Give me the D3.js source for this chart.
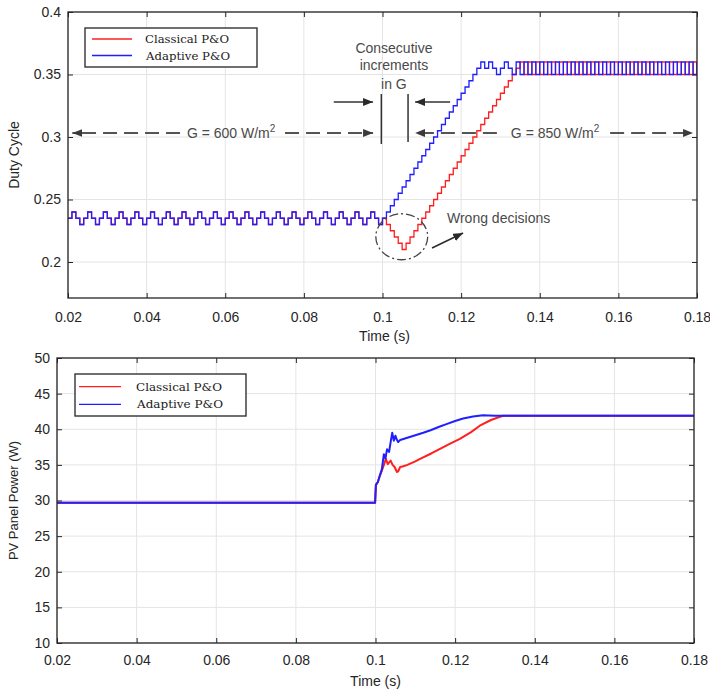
<!DOCTYPE html>
<html><head><meta charset="utf-8">
<script src="https://cdn.jsdelivr.net/npm/d3@7/dist/d3.min.js"></script>
<style>body{margin:0;background:#fff}</style>
</head><body><svg id="c" width="710" height="690" style="display:block;background:#fff"></svg>
<script>
// ---------------- data ----------------
const seriesNames = ["Classical P&O", "Adaptive P&O"];
const seriesColors = ["#ff1f1f", "#1f1fff"];
const timeTicks = [0.02, 0.04, 0.06, 0.08, 0.1, 0.12, 0.14, 0.16, 0.18];
const dutyTicks = [0.2, 0.25, 0.3, 0.35, 0.4];
const powerTicks = [10, 15, 20, 25, 30, 35, 40, 45, 50];

// duty cycle sampled every 1 ms starting at 0.020 s
const dutyT0 = 0.02, dutyDt = 0.001;
const dutyClassical = [
  0.235,0.24,0.235,0.23, 0.235,0.24,0.235,0.23, 0.235,0.24,0.235,0.23, 0.235,0.24,0.235,0.23,
  0.235,0.24,0.235,0.23, 0.235,0.24,0.235,0.23, 0.235,0.24,0.235,0.23, 0.235,0.24,0.235,0.23,
  0.235,0.24,0.235,0.23, 0.235,0.24,0.235,0.23, 0.235,0.24,0.235,0.23, 0.235,0.24,0.235,0.23,
  0.235,0.24,0.235,0.23, 0.235,0.24,0.235,0.23, 0.235,0.24,0.235,0.23, 0.235,0.24,0.235,0.23,
  0.235,0.24,0.235,0.23, 0.235,0.24,0.235,0.23, 0.235,0.24,0.235,0.23, 0.235,0.24,0.235,0.23,
  0.235,0.23,0.225,0.22,0.215,0.21,
  0.215,0.22,0.225,0.23,0.235,0.24,0.245,0.25,0.255,0.26,0.265,0.27,0.275,0.28,0.285,
  0.29,0.295,0.3,0.305,0.31,0.315,0.32,0.325,0.33,0.335,0.34,0.345,0.35,0.355,
  0.36,0.35,0.36,0.35,0.36,0.35,0.36,0.35,0.36,0.35,0.36,0.35,0.36,0.35,0.36,0.35,
  0.36,0.35,0.36,0.35,0.36,0.35,0.36,0.35,0.36,0.35,0.36,0.35,0.36,0.35,0.36,0.35,
  0.36,0.35,0.36,0.35,0.36,0.35,0.36,0.35,0.36,0.35,0.36,0.35,0.36,0.35
];
const dutyAdaptive = [
  0.235,0.24,0.235,0.23, 0.235,0.24,0.235,0.23, 0.235,0.24,0.235,0.23, 0.235,0.24,0.235,0.23,
  0.235,0.24,0.235,0.23, 0.235,0.24,0.235,0.23, 0.235,0.24,0.235,0.23, 0.235,0.24,0.235,0.23,
  0.235,0.24,0.235,0.23, 0.235,0.24,0.235,0.23, 0.235,0.24,0.235,0.23, 0.235,0.24,0.235,0.23,
  0.235,0.24,0.235,0.23, 0.235,0.24,0.235,0.23, 0.235,0.24,0.235,0.23, 0.235,0.24,0.235,0.23,
  0.235,0.24,0.235,0.23, 0.235,0.24,0.235,0.23, 0.235,0.24,0.235,0.23, 0.235,0.24,0.235,0.23,
  0.235,0.24,0.245,0.25,0.255,0.26,0.265,0.27,0.275,0.28,0.285,0.29,0.295,
  0.3,0.305,0.31,0.315,0.32,0.325,0.33,0.335,0.34,0.345,0.35,0.355,0.36,
  0.355,0.36,0.355,0.35,0.355,0.36,0.355,0.35,
  0.36,0.35,0.36,0.35,0.36,0.35,0.36,0.35,0.36,0.35,0.36,0.35,0.36,0.35,0.36,0.35,
  0.36,0.35,0.36,0.35,0.36,0.35,0.36,0.35,0.36,0.35,0.36,0.35,0.36,0.35,0.36,0.35,
  0.36,0.35,0.36,0.35,0.36,0.35,0.36,0.35,0.36,0.35,0.36,0.35,0.36,0.35,0.36
];

// PV panel power (W)
const powerClassicalT = [0.02,0.0999,0.1001,0.1006,0.1011,0.1016,0.1021,0.1026,0.1031,0.1035,0.1038,0.1043,0.1048,0.1054,0.1057,0.1062,0.1070,0.1080,0.1100,0.1112,0.1140,0.1162,0.1190,0.1212,0.1240,0.1262,0.1290,0.1320,0.18];
const powerClassical  = [29.7,29.7,32.2,32.6,33.5,34.2,35.0,35.85,35.1,35.4,35.6,35.0,34.7,34.0,34.1,34.7,34.8,35.0,35.5,35.85,36.6,37.25,38.05,38.65,39.6,40.5,41.3,41.9,41.9];
const powerAdaptiveT  = [0.02,0.0999,0.1001,0.1006,0.1011,0.1016,0.1021,0.1025,0.1029,0.1034,0.1038,0.1042,0.1046,0.1050,0.1053,0.1057,0.1062,0.1080,0.1100,0.1120,0.1140,0.1160,0.1180,0.1200,0.1220,0.1245,0.1270,0.1300,0.18];
const powerAdaptive   = [29.7,29.7,32.2,32.6,33.5,34.4,36.5,35.9,37.2,36.8,38.2,39.5,38.4,39.1,38.6,38.2,38.5,38.8,39.15,39.5,39.9,40.35,40.75,41.15,41.5,41.8,41.95,41.9,41.9];

// ---------------- drawing ----------------
const svg = d3.select("#c");
const AX = "#262626", GRID = "#e4e4e4", FONT = "'Liberation Sans', Arial, Helvetica, sans-serif";

const defs = svg.append("defs");
function marker(id, color) {
  defs.append("marker").attr("id", id).attr("viewBox", "0 0 10 8").attr("refX", 10).attr("refY", 4)
    .attr("markerWidth", 10).attr("markerHeight", 8).attr("markerUnits", "userSpaceOnUse")
    .attr("orient", "auto-start-reverse")
    .append("path").attr("d", "M0,0 L10,4 L0,8 Z").attr("fill", color);
}
marker("arrDark", "#2a2a2a");
marker("arrGray", "#3a3a3a");

function panel(o) {
  const x = d3.scaleLinear().domain([0.02, 0.18]).range([o.x0, o.x1]);
  const y = d3.scaleLinear().domain(o.yDomain).range([o.y1, o.y0]);
  const g = svg.append("g");
  g.append("rect").attr("x", o.x0).attr("y", o.y0).attr("width", o.x1 - o.x0).attr("height", o.y1 - o.y0).attr("fill", "#fff");
  g.selectAll(null).data(timeTicks).join("line")
    .attr("x1", d => x(d)).attr("x2", d => x(d)).attr("y1", o.y0).attr("y2", o.y1)
    .attr("stroke", GRID).attr("stroke-width", 1);
  g.selectAll(null).data(o.yTicks).join("line")
    .attr("x1", o.x0).attr("x2", o.x1).attr("y1", d => y(d)).attr("y2", d => y(d))
    .attr("stroke", GRID).attr("stroke-width", 1);
  const cid = "clip" + o.id;
  defs.append("clipPath").attr("id", cid).append("rect")
    .attr("x", o.x0).attr("y", o.y0).attr("width", o.x1 - o.x0).attr("height", o.y1 - o.y0);
  const plot = g.append("g").attr("clip-path", `url(#${cid})`);
  const fmt = d3.format("~g");
  const styleAxis = a => {
    a.select(".domain").remove();
    a.selectAll("line").attr("stroke", AX).attr("stroke-width", 1);
    a.selectAll("text").attr("fill", AX).attr("font-size", o.fs).attr("font-family", FONT);
  };
  g.append("g").attr("transform", `translate(0,${o.y1})`)
    .call(d3.axisBottom(x).tickValues(timeTicks).tickFormat(fmt).tickSizeInner(-5).tickSizeOuter(0).tickPadding(o.xPad))
    .call(styleAxis);
  g.append("g").attr("transform", `translate(0,${o.y0})`)
    .call(d3.axisTop(x).tickValues(timeTicks).tickFormat("").tickSizeInner(-5).tickSizeOuter(0))
    .call(styleAxis);
  g.append("g").attr("transform", `translate(${o.x0},0)`)
    .call(d3.axisLeft(y).tickValues(o.yTicks).tickFormat(fmt).tickSizeInner(-5).tickSizeOuter(0).tickPadding(7))
    .call(styleAxis);
  g.append("g").attr("transform", `translate(${o.x1},0)`)
    .call(d3.axisRight(y).tickValues(o.yTicks).tickFormat("").tickSizeInner(-5).tickSizeOuter(0))
    .call(styleAxis);
  g.append("rect").attr("x", o.x0).attr("y", o.y0).attr("width", o.x1 - o.x0).attr("height", o.y1 - o.y0)
    .attr("fill", "none").attr("stroke", AX).attr("stroke-width", 1.3);
  // axis titles
  g.append("text").attr("x", (o.x0 + o.x1) / 2 + o.xlDx).attr("y", o.xlY).attr("text-anchor", "middle")
    .attr("font-family", FONT).attr("font-size", o.fs).attr("fill", AX).text("Time (s)");
  g.append("text").attr("transform", `translate(${o.ylX},${(o.y0 + o.y1) / 2}) rotate(-90)`)
    .attr("text-anchor", "middle").attr("font-family", FONT).attr("font-size", o.yfs).attr("fill", AX).text(o.ylabel);
  // legend
  const L = o.legend;
  const lg = g.append("g");
  lg.append("rect").attr("x", L.x).attr("y", L.y).attr("width", L.w).attr("height", L.h)
    .attr("fill", "#fff").attr("stroke", "#333").attr("stroke-width", 1.4);
  seriesNames.forEach((name, i) => {
    const yy = L.y + L.r0 + i * L.dy;
    lg.append("line").attr("x1", L.x + L.lx0).attr("x2", L.x + L.lx1).attr("y1", yy).attr("y2", yy)
      .attr("stroke", seriesColors[i]).attr("stroke-width", 1.3);
    lg.append("text").attr("x", L.x + L.tx + i * 1).attr("y", yy + 4)
      .attr("font-family", "'DejaVu Serif', 'Liberation Serif', serif").attr("font-size", 10.5)
      .attr("fill", "#1a1a1a").attr("textLength", L.tl).attr("lengthAdjust", "spacingAndGlyphs").text(name);
  });
  return { x, y, g, plot, lg };
}

// ---- top panel: duty cycle ----
const topP = panel({ id: "a", x0: 68, x1: 697, y0: 12, y1: 298, yDomain: [0.1712, 0.4], yTicks: dutyTicks,
  fs: 14, yfs: 14, xPad: 14, xlY: 341, xlDx: 2, ylX: 19, ylabel: "Duty Cycle",
  legend: { x: 85, y: 28, w: 172, h: 39, r0: 11, dy: 16.5, lx0: 7, lx1: 47, tx: 60, tl: 84 } });

const dutyLine = d3.line().curve(d3.curveStepAfter).x(d => topP.x(d[0])).y(d => topP.y(d[1]));
[dutyClassical, dutyAdaptive].forEach((arr, i) => {
  const pts = arr.map((v, k) => [dutyT0 + k * dutyDt, v]);
  topP.plot.append("path").attr("d", dutyLine(pts)).attr("fill", "none")
    .attr("stroke", seriesColors[i]).attr("stroke-width", 1.3);
});
topP.g.node().appendChild(topP.lg.node());

// annotations (data coordinates)
const ann = topP.g.append("g");
const X = topP.x, Y = topP.y;
const annGray = "#4a4a4a";
[[0.0997, 0.3344, 0.2944], [0.1065, 0.3344, 0.296]].forEach(d => {
  ann.append("line").attr("x1", X(d[0])).attr("x2", X(d[0])).attr("y1", Y(d[1])).attr("y2", Y(d[2]))
    .attr("stroke", "#333").attr("stroke-width", 1.5);
});
[[0.0876, 0.0976], [0.1172, 0.1083]].forEach(d => {
  ann.append("line").attr("x1", X(d[0])).attr("x2", X(d[1])).attr("y1", Y(0.328)).attr("y2", Y(0.328))
    .attr("stroke", "#333").attr("stroke-width", 1.5).attr("marker-end", "url(#arrDark)");
});
// dashed irradiance arrows
const dashY = 0.3032;
[[0.0485, 0.0211], [0.0752, 0.0976], [0.1291, 0.1083], [0.1579, 0.1790]].forEach(d => {
  ann.append("line").attr("x1", X(d[0])).attr("x2", X(d[1])).attr("y1", Y(dashY)).attr("y2", Y(dashY))
    .attr("stroke", "#555").attr("stroke-width", 1.8).attr("stroke-dasharray", "14,7")
    .attr("marker-end", "url(#arrGray)");
});
[[0.0615, "600"], [0.1439, "850"]].forEach(d => {
  const t = ann.append("text").attr("x", X(d[0])).attr("y", Y(dashY) + 5).attr("text-anchor", "middle")
    .attr("font-family", FONT).attr("font-size", 14).attr("fill", annGray);
  t.append("tspan").text(`G = ${d[1]} W/m`);
  t.append("tspan").attr("dy", -6).attr("font-size", 10).text("2");
});
[["Consecutive", 0.3672], ["increments", 0.3536], ["in G", 0.3384]].forEach(d => {
  ann.append("text").attr("x", X(0.1029)).attr("y", Y(d[1])).attr("text-anchor", "middle")
    .attr("font-family", FONT).attr("font-size", 14).attr("fill", annGray).text(d[0]);
});
ann.append("text").attr("x", X(0.1164)).attr("y", Y(0.2312))
  .attr("font-family", FONT).attr("font-size", 14).attr("fill", annGray).text("Wrong decisions");
ann.append("line").attr("x1", X(0.1126)).attr("y1", Y(0.2112)).attr("x2", X(0.1205)).attr("y2", Y(0.2232))
  .attr("stroke", "#2a2a2a").attr("stroke-width", 1.5).attr("marker-end", "url(#arrDark)");
ann.append("ellipse").attr("cx", X(0.1049)).attr("cy", Y(0.2202))
  .attr("rx", X(0.1049 + 0.0066) - X(0.1049)).attr("ry", Y(0.2202) - Y(0.2202 + 0.0184))
  .attr("fill", "none").attr("stroke", "#444").attr("stroke-width", 1.3).attr("stroke-dasharray", "9,3,2,3");

// ---- bottom panel: PV power ----
const botP = panel({ id: "b", x0: 57, x1: 694, y0: 358, y1: 643, yDomain: [10, 50], yTicks: powerTicks,
  fs: 14, yfs: 13, xPad: 12, xlY: 686, xlDx: 0, ylX: 18, ylabel: "PV Panel Power (W)",
  legend: { x: 75, y: 374, w: 171, h: 42, r0: 12.7, dy: 17.6, lx0: 4, lx1: 46, tx: 61, tl: 86 } });
const pLine = d3.line().x(d => botP.x(d[0])).y(d => botP.y(d[1]));
[[powerClassicalT, powerClassical], [powerAdaptiveT, powerAdaptive]].forEach((s, i) => {
  const pts = s[0].map((t, k) => [t, s[1][k]]);
  botP.plot.append("path").attr("d", pLine(pts)).attr("fill", "none")
    .attr("stroke", seriesColors[i]).attr("stroke-width", 2).attr("stroke-linejoin", "round");
});
botP.g.node().appendChild(botP.lg.node());
</script></body></html>
